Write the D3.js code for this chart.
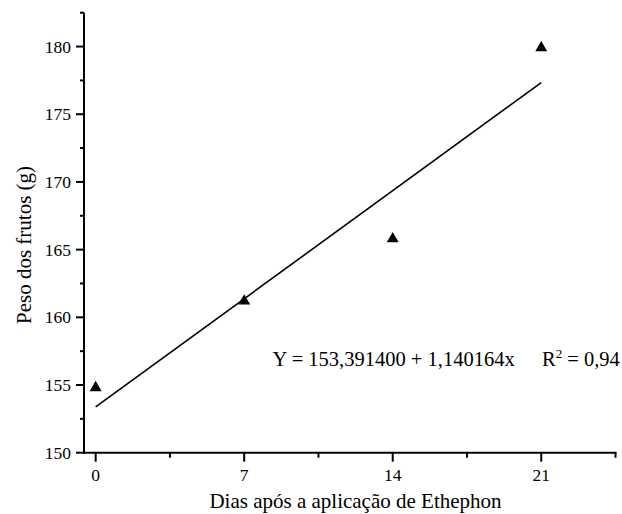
<!DOCTYPE html>
<html>
<head>
<meta charset="utf-8">
<script src="https://cdn.jsdelivr.net/npm/d3@7/dist/d3.min.js"></script>
<style>
  html, body { margin: 0; padding: 0; background: #fff; }
  svg { display: block; }
  text { font-family: "Liberation Serif", "Times New Roman", serif; fill: #000; }
</style>
</head>
<body>
<svg id="chart" width="622" height="514"></svg>
<script>
// Days after Ethephon application and mean fruit weight (g)
const days = [0, 7, 14, 21];
const weights = [154.8, 161.2, 165.8, 179.9];
const xTicks = [0, 7, 14, 21];
const xMinorTicks = [3.5, 10.5, 17.5, 24.5];
const yTicks = [150, 155, 160, 165, 170, 175, 180];
const yMinorTicks = [152.5, 157.5, 162.5, 167.5, 172.5, 177.5, 182.5];
// Linear fit: Y = a + b·x
const intercept = 153.3914;
const slope = 1.140164;
const r2Label = "0,94";

const svg = d3.select("#chart");
const x = d3.scaleLinear().domain([-0.55, 24.5]).range([84, 615.5]);
const y = d3.scaleLinear().domain([150, 182.5]).range([452.7, 12.7]);

const tickSize = 17.5;
const titleSize = 21;
const eqSize = 20.5;

// x axis
const gx = svg.append("g").attr("transform", `translate(0,${y(150)})`);
gx.append("line").attr("x1", x.range()[0] - 1).attr("x2", x.range()[1] + 1)
  .attr("stroke", "#000").attr("stroke-width", 2);
gx.selectAll(".maj").data(xTicks).join("line")
  .attr("x1", d => x(d)).attr("x2", d => x(d)).attr("y1", 0).attr("y2", 9)
  .attr("stroke", "#000").attr("stroke-width", 2);
gx.selectAll(".min").data(xMinorTicks).join("line")
  .attr("x1", d => x(d)).attr("x2", d => x(d)).attr("y1", 0).attr("y2", 5)
  .attr("stroke", "#000").attr("stroke-width", 2);
gx.selectAll("text").data(xTicks).join("text")
  .attr("x", d => x(d)).attr("y", 28.3)
  .attr("text-anchor", "middle").attr("font-size", tickSize)
  .text(d => d);

// y axis
const gy = svg.append("g").attr("transform", `translate(${x(-0.55)},0)`);
gy.append("line").attr("y1", y.range()[0] + 1).attr("y2", y.range()[1])
  .attr("stroke", "#000").attr("stroke-width", 2);
gy.selectAll(".maj").data(yTicks).join("line")
  .attr("y1", d => y(d)).attr("y2", d => y(d)).attr("x1", 0).attr("x2", -8)
  .attr("stroke", "#000").attr("stroke-width", 2);
gy.selectAll(".min").data(yMinorTicks).join("line")
  .attr("y1", d => y(d)).attr("y2", d => y(d)).attr("x1", 0).attr("x2", -4)
  .attr("stroke", "#000").attr("stroke-width", 2);
gy.selectAll("text").data(yTicks).join("text")
  .attr("x", -13).attr("y", d => y(d)).attr("dy", "0.35em")
  .attr("text-anchor", "end").attr("font-size", tickSize)
  .text(d => d);

// axis titles
svg.append("text")
  .attr("x", 355.5).attr("y", 508)
  .attr("text-anchor", "middle").attr("font-size", titleSize)
  .text("Dias após a aplicação de Ethephon");
svg.append("text")
  .attr("transform", "translate(31,245) rotate(-90)")
  .attr("text-anchor", "middle").attr("font-size", titleSize)
  .text("Peso dos frutos (g)");

// fitted line
const line = d3.line().x(d => x(d)).y(d => y(intercept + slope * d));
svg.append("path").datum([0, 21]).attr("d", line)
  .attr("fill", "none").attr("stroke", "#000").attr("stroke-width", 1.6);

// observed points
svg.selectAll(".pt").data(days).join("path")
  .attr("class", "pt")
  .attr("transform", (d, i) => `translate(${x(d)},${y(weights[i])})`)
  .attr("d", d3.symbol().type(d3.symbolTriangle).size(62))
  .attr("fill", "#000");

// regression equation and coefficient of determination
svg.append("text").attr("x", 272.5).attr("y", 365.7).attr("font-size", eqSize)
  .text(`Y = ${intercept.toFixed(6).replace(".", ",")} + ${String(slope).replace(".", ",")}x`);
const r2 = svg.append("text").attr("x", 542).attr("y", 365.7).attr("font-size", eqSize);
r2.append("tspan").text("R");
r2.append("tspan").attr("dy", -8).attr("font-size", 13).text("2");
r2.append("tspan").attr("dy", 8).text(` = ${r2Label}`);
</script>
</body>
</html>
